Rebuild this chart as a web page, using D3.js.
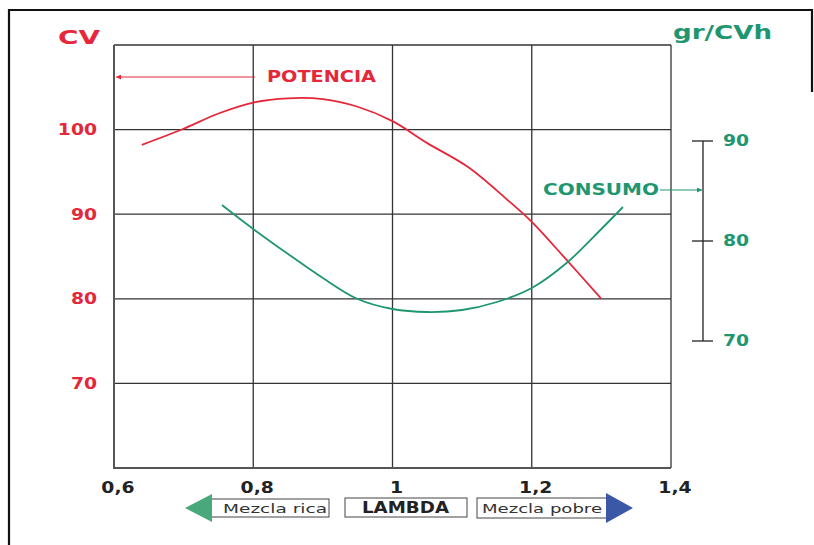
<!DOCTYPE html>
<html>
<head>
<meta charset="utf-8">
<script src="https://cdn.jsdelivr.net/npm/d3@7"></script>
<style>
  body { margin: 0; background: #fff; }
  svg { display: block; font-family: "DejaVu Sans", sans-serif; }
</style>
</head>
<body>
<div id="chart"></div>
<script>
// Data
const lambdaTicks = [0.6, 0.8, 1.0, 1.2, 1.4];
const lambdaLabels = ["0,6", "0,8", "1", "1,2", "1,4"];
const cvTicks = [70, 80, 90, 100];
const consTicks = [70, 80, 90];

const lambdaPot = [0.64, 0.7, 0.75, 0.8, 0.85, 0.9, 0.95, 1.0, 1.05, 1.108, 1.165, 1.2, 1.25, 1.3];
const potencia = [98.2, 100.1, 101.9, 103.2, 103.7, 103.6, 102.7, 101.0, 98.4, 95.6, 91.7, 89.1, 84.6, 80.0];

const lambdaCons = [0.755, 0.8, 0.85, 0.9, 0.95, 1.0, 1.05, 1.1, 1.15, 1.2, 1.25, 1.3, 1.331];
const consumo = [83.6, 81.2, 78.7, 76.3, 74.2, 73.2, 72.9, 73.1, 73.9, 75.3, 77.8, 81.2, 83.4];

const red = "#e5273a";
const green = "#1e9670";

const W = 814, H = 545;
const svg = d3.select("#chart").append("svg").attr("width", W).attr("height", H);

// stretch glyphs horizontally to mimic the wide geometric typeface of the scan
function widen(sel, k) {
  sel.each(function () {
    const w = this.getComputedTextLength();
    d3.select(this).attr("textLength", w * k).attr("lengthAdjust", "spacingAndGlyphs");
  });
}
function fit(sel, len) {
  sel.attr("textLength", len).attr("lengthAdjust", "spacingAndGlyphs");
}

// outer frame (partial, as in the scan)
svg.append("path")
  .attr("d", "M9,545 V10 H812 V92")
  .attr("fill", "none").attr("stroke", "#111").attr("stroke-width", 2.2);

const x = d3.scaleLinear().domain([0.6, 1.4]).range([114, 671]);
const yL = d3.scaleLinear().domain([60, 110]).range([468, 45]);
const yR = d3.scaleLinear().domain([70, 90]).range([341, 141]);

// grid
const grid = svg.append("g").attr("stroke", "#333").attr("stroke-width", 1.3);
grid.selectAll(".vx").data(lambdaTicks).join("line")
  .attr("x1", d => x(d)).attr("x2", d => x(d))
  .attr("y1", yL(110)).attr("y2", yL(60));
grid.selectAll(".hy").data([70, 80, 90, 100, 110]).join("line")
  .attr("x1", x(0.6)).attr("x2", x(1.4))
  .attr("y1", d => yL(d)).attr("y2", d => yL(d));
// bottom and left axis lines a bit heavier
svg.append("path")
  .attr("d", `M${x(0.6)},${yL(110)} V${yL(60)} H${x(1.4)}`)
  .attr("fill", "none").attr("stroke", "#555").attr("stroke-width", 2);

// left tick labels
svg.selectAll(".cvl").data(cvTicks).join("text")
  .attr("x", 97).attr("y", d => yL(d)).attr("dy", "0.36em")
  .attr("text-anchor", "end").attr("fill", red)
  .attr("font-size", 15).attr("font-weight", "bold")
  .text(d => d)
  .call(widen, 1.25);

// bottom tick labels
svg.selectAll(".xl").data(lambdaTicks).join("text")
  .attr("x", d => x(d) + 4).attr("y", 493)
  .attr("text-anchor", "middle").attr("fill", "#222")
  .attr("font-size", 15).attr("font-weight", "bold")
  .text((d, i) => lambdaLabels[i])
  .call(widen, 1.25);

// axis titles
svg.append("text").attr("x", 58).attr("y", 44)
  .attr("fill", red).attr("font-size", 19).attr("font-weight", "bold")
  .text("CV").call(fit, 42);
svg.append("text").attr("x", 673).attr("y", 39)
  .attr("fill", green).attr("font-size", 19).attr("font-weight", "bold")
  .text("gr/CVh").call(fit, 99);

// right consumption axis
const rAx = svg.append("g").attr("stroke", "#222").attr("stroke-width", 1.3);
rAx.append("line").attr("x1", 703).attr("x2", 703).attr("y1", yR(90)).attr("y2", yR(70));
rAx.selectAll(".rt").data(consTicks).join("line")
  .attr("x1", 692).attr("x2", 713)
  .attr("y1", d => yR(d)).attr("y2", d => yR(d));
svg.selectAll(".rl").data(consTicks).join("text")
  .attr("x", 723).attr("y", d => yR(d)).attr("dy", "0.36em")
  .attr("fill", green).attr("font-size", 15).attr("font-weight", "bold")
  .text(d => d)
  .call(widen, 1.25);

// curves
const line = d3.line().curve(d3.curveCatmullRom.alpha(0.5));
svg.append("path")
  .attr("d", line(lambdaPot.map((l, i) => [x(l), yL(potencia[i])])))
  .attr("fill", "none").attr("stroke", red).attr("stroke-width", 1.8);
svg.append("path")
  .attr("d", line(lambdaCons.map((l, i) => [x(l), yR(consumo[i])])))
  .attr("fill", "none").attr("stroke", green).attr("stroke-width", 1.8);

// arrow markers
const defs = svg.append("defs");
[["arR", red], ["arG", green]].forEach(([id, c]) => {
  defs.append("marker").attr("id", id)
    .attr("viewBox", "0 0 10 10").attr("refX", 10).attr("refY", 5)
    .attr("markerWidth", 7).attr("markerHeight", 5).attr("markerUnits", "userSpaceOnUse")
    .attr("orient", "auto")
    .append("path").attr("d", "M0,0 L10,5 L0,10 z").attr("fill", c);
});

// POTENCIA label and arrow
svg.append("line").attr("x1", 255).attr("x2", 116).attr("y1", 77).attr("y2", 77)
  .attr("stroke", red).attr("stroke-width", 1).attr("marker-end", "url(#arR)");
svg.append("text").attr("x", 267).attr("y", 82)
  .attr("fill", red).attr("font-size", 15).attr("font-weight", "bold")
  .text("POTENCIA").call(fit, 109);

// CONSUMO label and arrow
svg.append("line").attr("x1", 660).attr("x2", 702).attr("y1", 190).attr("y2", 190)
  .attr("stroke", green).attr("stroke-width", 1).attr("marker-end", "url(#arG)");
svg.append("text").attr("x", 543).attr("y", 195)
  .attr("fill", green).attr("font-size", 15).attr("font-weight", "bold")
  .text("CONSUMO").call(fit, 116);

// bottom LAMBDA legend
const lg = svg.append("g");
lg.append("rect").attr("x", 210).attr("y", 499).attr("width", 119).attr("height", 18)
  .attr("fill", "#fff").attr("stroke", "#444").attr("stroke-width", 1);
lg.append("path").attr("d", "M185,508 L212,494 L212,522 Z").attr("fill", "#4aa97c");
lg.append("text").attr("x", 223).attr("y", 513)
  .attr("fill", "#333").attr("font-size", 13).text("Mezcla rica").call(fit, 104);

lg.append("rect").attr("x", 345).attr("y", 498).attr("width", 122).attr("height", 19)
  .attr("fill", "#fff").attr("stroke", "#444").attr("stroke-width", 1);
lg.append("text").attr("x", 362).attr("y", 513)
  .attr("fill", "#222").attr("font-size", 15).attr("font-weight", "bold")
  .text("LAMBDA").call(fit, 87);

lg.append("rect").attr("x", 477).attr("y", 498).attr("width", 130).attr("height", 20)
  .attr("fill", "#fff").attr("stroke", "#444").attr("stroke-width", 1);
lg.append("path").attr("d", "M606,493 L633,508 L606,523 Z").attr("fill", "#3a58a6");
lg.append("text").attr("x", 482).attr("y", 513)
  .attr("fill", "#333").attr("font-size", 13).text("Mezcla pobre").call(fit, 120);
</script>
</body>
</html>
